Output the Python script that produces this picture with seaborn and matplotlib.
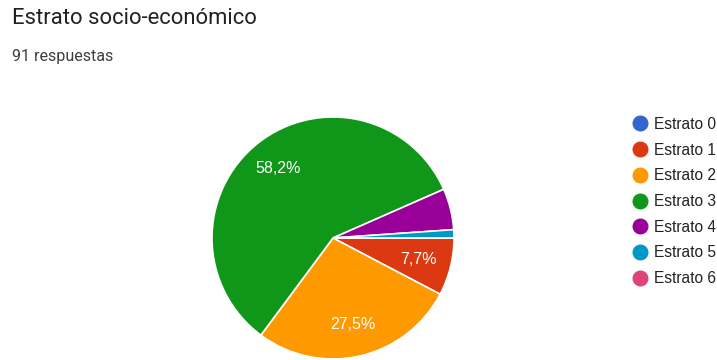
import matplotlib
matplotlib.use("Agg")
import matplotlib.pyplot as plt
from matplotlib.lines import Line2D
import seaborn as sns

# Survey answers per socio-economic stratum
categories = ["Estrato 0", "Estrato 1", "Estrato 2", "Estrato 3",
              "Estrato 4", "Estrato 5", "Estrato 6"]
counts = [0, 7, 25, 53, 5, 1, 0]
colors = ["#3366cc", "#dc3912", "#ff9900", "#109618",
          "#990099", "#0099c6", "#dd4477"]
title = "Estrato socio-económico"
subtitle = "91 respuestas"

sns.set_theme(style="white")
plt.rcParams["font.family"] = ["Liberation Sans", "DejaVu Sans"]

W, H = 717, 360
fig = plt.figure(figsize=(W / 100, H / 100), dpi=100)

# Pie axes, positioned in pixels
cx, cy, r = 333, 238, 121
ax = fig.add_axes([(cx - r) / W, (H - cy - r) / H, 2 * r / W, 2 * r / H])

vals = [c for c in counts if c > 0]
cols = [col for c, col in zip(counts, colors) if c > 0]


def pct_label(p):
    if p < 6:
        return ""
    return f"{p:.1f}%".replace(".", ",")


wedges, texts, autotexts = ax.pie(
    vals, colors=cols, startangle=0, counterclock=False,
    autopct=pct_label, pctdistance=0.73,
    wedgeprops=dict(edgecolor="white", linewidth=1.2),
    textprops=dict(color="white", fontsize=11.5),
    radius=1.0,
)
ax.set_xlim(-1.0, 1.0)
ax.set_ylim(-1.0, 1.0)
ax.set_aspect("equal")
ax.axis("off")

# Title and response count
fig.text(12 / W, 1 - 18 / H, title, fontsize=15.8, color="#202124",
         family=["Roboto", "DejaVu Sans"], va="center", ha="left")
fig.text(12 / W, 1 - 57 / H, subtitle, fontsize=11.6, color="#3c4043",
         family=["Roboto", "DejaVu Sans"], va="center", ha="left")

# Legend with every stratum, including empty ones
handles = [Line2D([0], [0], marker="o", linestyle="", markersize=10.5,
                  markerfacecolor=c, markeredgecolor=c) for c in colors]
fig.legend(handles, categories, loc="upper left",
           bbox_to_anchor=(624 / W, 1 - 109 / H), frameon=False,
           fontsize=11.2, labelspacing=0.69, handletextpad=0.45,
           handlelength=1.0, borderpad=0, labelcolor="#222222")

fig.savefig("out.png", dpi=100)
